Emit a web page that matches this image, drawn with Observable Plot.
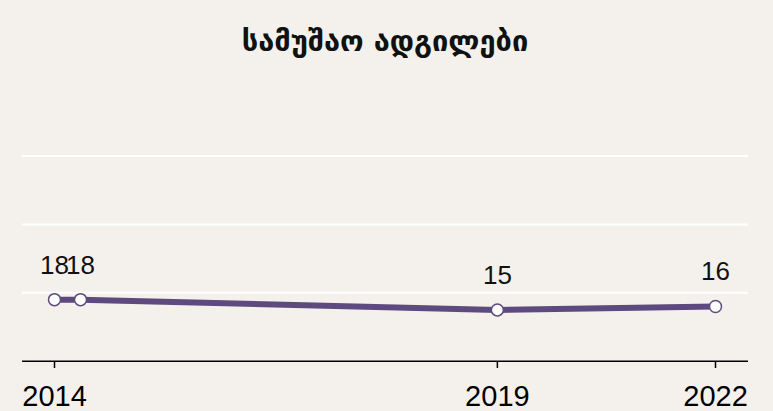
<!DOCTYPE html>
<html>
<head>
<meta charset="utf-8">
<script src="https://cdn.jsdelivr.net/npm/d3@7"></script>
<script src="https://cdn.jsdelivr.net/npm/@observablehq/plot@0.6"></script>
<style>
  html, body { margin: 0; padding: 0; background: #f4f1ec; }
  #chart svg { display: block; }
</style>
</head>
<body>
<div id="chart"></div>
<script>
const title = "სამუშაო ადგილები";
// survey positions on the time axis (decimal years)
const positions = [2014.0, 2014.315, 2019.36, 2022.0];
const values = [18, 18, 15, 16];
const tickPositions = [2014.0, 2019.36, 2022.0];
const tickLabels = ["2014", "2019", "2022"];
const gridValues = [20, 40, 60];

const data = positions.map((p, i) => ({ x: p, y: values[i] }));

const chart = Plot.plot({
  width: 773,
  height: 411,
  marginLeft: 22,
  marginRight: 25,
  marginTop: 0,
  marginBottom: 50,
  style: { background: "#f4f1ec", overflow: "visible" },
  x: { domain: [2014, 2022], range: [54, 715] },
  y: { domain: [0, 60], range: [360.7, 155.5], axis: null },
  marks: [
    Plot.ruleY(gridValues, { stroke: "#ffffff", strokeWidth: 2 }),
    Plot.ruleY([0], { stroke: "#000000", strokeWidth: 1.5 }),
    Plot.axisX({
      ticks: tickPositions,
      tickFormat: (d, i) => tickLabels[i],
      tickSize: 7,
      tickPadding: 17,
      stroke: "#000",
      strokeWidth: 1.5,
      fill: "#000",
      fontSize: 29,
      fontFamily: "Liberation Sans, Arial, sans-serif",
      label: null
    }),
    Plot.line(data, { x: "x", y: "y", stroke: "#5d4a7e", strokeWidth: 6, strokeLinecap: "round" }),
    Plot.dot(data, { x: "x", y: "y", r: 6, fill: "#ffffff", stroke: "#5d4a7e", strokeWidth: 1.5 }),
    Plot.text(data, {
      x: "x", y: "y", text: d => String(d.y),
      dy: -26, lineAnchor: "bottom",
      fontSize: 26, fontFamily: "Liberation Sans, Arial, sans-serif", fill: "#111"
    }),
    Plot.text([title], {
      x: () => 2018, y: () => 60,
      text: d => d, dy: -114, lineAnchor: "middle",
      fontSize: 29, fontWeight: "bold", fontFamily: "DejaVu Sans", fill: "#111"
    })
  ]
});
document.getElementById("chart").appendChild(chart);
</script>
</body>
</html>
